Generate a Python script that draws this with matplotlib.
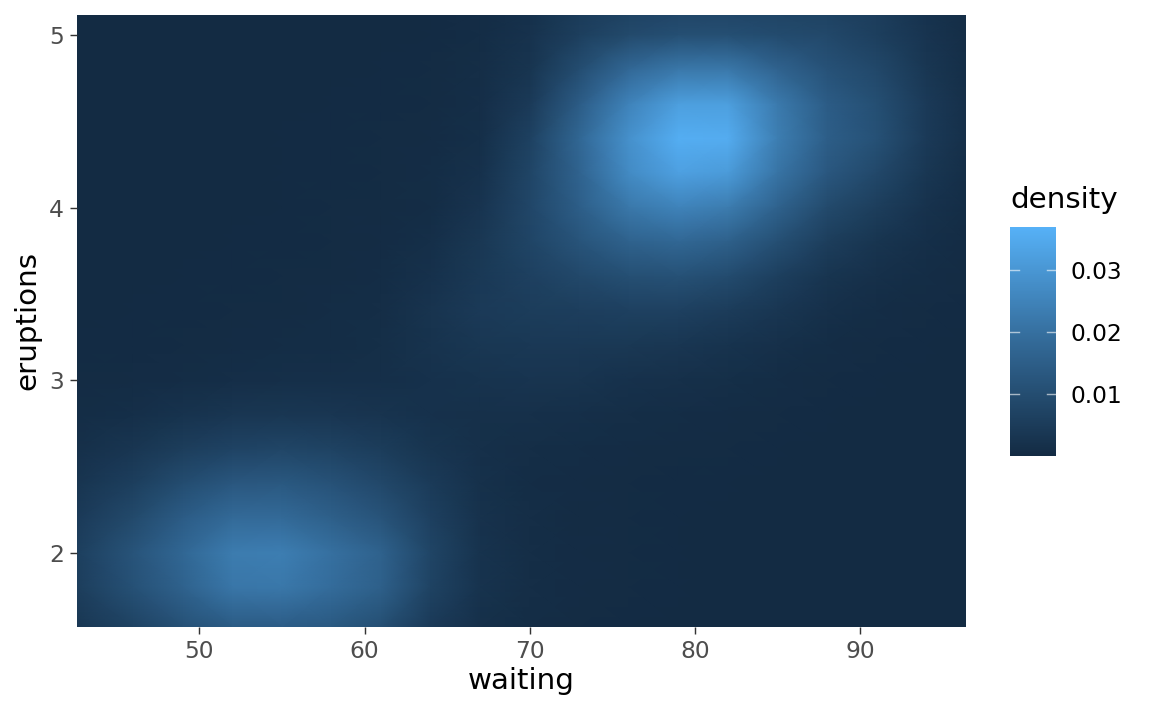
import numpy as np
import matplotlib
matplotlib.use('Agg')
import matplotlib.pyplot as plt
from matplotlib.colors import LinearSegmentedColormap, Normalize
from matplotlib.transforms import blended_transform_factory

W, H = 1152, 711

waiting = [42.6, 46, 49, 52, 55, 58, 61, 64, 67, 70, 73, 76, 79, 82, 85, 88, 91, 94, 96.4]
eruptions = [5.12, 5.0, 4.8, 4.6, 4.4, 4.2, 4.0, 3.8, 3.6, 3.4, 3.2, 3.0, 2.8, 2.6, 2.4, 2.2, 2.0, 1.8, 1.57]

# density, in units of 0.001, top row first
density = [
    [.1, .1, .1, .1, .1, .1, .1, .2, .6, 2, 5, 7, 8, 8, 7.5, 7, 5.5, 2.5, 1],
    [.1, .1, .1, .1, .1, .1, .1, .2, .7, 2.2, 6, 9, 10.5, 10.5, 9.5, 8.5, 6, 2.8, 1],
    [.1, .1, .1, .1, .1, .1, .2, .3, .9, 3, 10, 18, 22, 22, 16.5, 11.5, 8.5, 3.5, 1.2],
    [.1, .1, .1, .1, .1, .2, .2, .4, 1.1, 4.5, 14.5, 25, 32, 32, 22.5, 14.5, 10.5, 4.5, 1.5],
    [.1, .1, .1, .1, .2, .2, .3, .5, 1.3, 6.5, 17.5, 28.5, 36, 35.5, 23.5, 15, 11, 4.5, 1.5],
    [.1, .1, .1, .1, .2, .2, .3, .6, 2, 7.5, 16.5, 27, 32.5, 31, 21, 13, 8.5, 3.5, 1.2],
    [.1, .1, .1, .1, .2, .3, .4, .8, 2.8, 8, 15, 22, 25, 23, 16, 9, 5.5, 2.2, .8],
    [.1, .1, .1, .2, .2, .3, .5, 1.3, 3.8, 7.5, 12, 16, 17.5, 15.5, 10.5, 5.5, 3, 1.4, .5],
    [.1, .1, .2, .2, .3, .4, .7, 1.9, 4.2, 6.2, 8.5, 10.5, 11, 9.5, 6, 3, 1.5, .7, .3],
    [.1, .2, .2, .3, .4, .6, 1, 2.6, 4.6, 5.2, 5.7, 6.2, 6.2, 5, 3.2, 1.5, .7, .3, .2],
    [.2, .2, .3, .5, .7, .8, 1.2, 2.4, 3.6, 4, 4, 3.8, 3.2, 2.5, 1.5, .7, .3, .2, .1],
    [.3, .5, .8, 1.1, 1.4, 1.4, 1.4, 1.9, 2.5, 2.8, 2.6, 2, 1.6, 1.2, .7, .3, .2, .1, .1],
    [.7, 1.4, 2.4, 3.2, 3.5, 3.2, 2.6, 1.9, 1.6, 1.5, 1.3, 1, .8, .5, .3, .2, .1, .1, .1],
    [1.5, 3.2, 5.5, 7.2, 7.8, 7, 5.2, 3, 1.5, 1, .7, .5, .4, .3, .2, .1, .1, .1, .1],
    [3, 6, 10, 13, 13.5, 11.5, 8.5, 4.8, 1.8, .8, .5, .3, .2, .2, .1, .1, .1, .1, .1],
    [4.5, 9, 14.5, 18.5, 18.5, 15.5, 12, 6.2, 2.2, .9, .4, .3, .2, .1, .1, .1, .1, .1, .1],
    [6, 12, 17.5, 23, 23.5, 20, 16, 7.5, 2.5, 1, .5, .3, .2, .1, .1, .1, .1, .1, .1],
    [5.5, 11, 16, 21.5, 22, 19, 15.5, 7, 2.4, 1, .5, .3, .2, .1, .1, .1, .1, .1, .1],
    [3.5, 7, 11, 14, 14.5, 13.5, 10.5, 4.5, 1.6, .7, .4, .2, .1, .1, .1, .1, .1, .1, .1],
]

x_ticks = [50, 60, 70, 80, 90]
y_ticks = [2, 3, 4, 5]
legend_ticks = [0.01, 0.02, 0.03]
legend_labels = ['0.01', '0.02', '0.03']


def px_axes(fig, left, top, right, bottom):
    return fig.add_axes([left / W, 1 - bottom / H, (right - left) / W, (bottom - top) / H])


fig = plt.figure(figsize=(W / 144, H / 144), dpi=144)
cmap = LinearSegmentedColormap.from_list('ggblue', ['#132B43', '#336A98', '#56B1F7'])
norm = Normalize(0, 0.0369)

ax = px_axes(fig, 77, 15, 966, 627)
z = np.array(density) / 1000
mesh = ax.pcolormesh(waiting, eruptions, z, shading='gouraud', cmap=cmap, norm=norm, rasterized=True)
ax.set_xlim(42.6, 96.4)
ax.set_ylim(1.57, 5.116)
ax.set_xticks(x_ticks)
ax.set_yticks(y_ticks)
ax.tick_params(length=3.65, width=0.71, color='#333333', labelcolor='#4D4D4D', labelsize=11.7, pad=2.9)
for s in ax.spines.values():
    s.set_visible(False)

fig.text(521 / W, 1 - 681 / H, 'waiting', fontsize=14.67, ha='center', va='center')
fig.text(27 / W, 1 - 321 / H, 'eruptions', fontsize=14.67, rotation=90, ha='center', va='center')

# legend
cax = px_axes(fig, 1010, 227, 1056, 456)
cbar = fig.colorbar(mesh, cax=cax)
cbar.outline.set_visible(False)
cbar.set_ticks(legend_ticks, labels=legend_labels)
cax.tick_params(length=0, labelsize=11.7, pad=7.5, labelcolor='black')
trans = blended_transform_factory(cax.transAxes, cax.transData)
for t in legend_ticks:
    cax.plot([0, 0.2], [t, t], color='white', alpha=0.6, lw=0.71, transform=trans)
    cax.plot([0.8, 1], [t, t], color='white', alpha=0.6, lw=0.71, transform=trans)
fig.text(1010 / W, 1 - 200 / H, 'density', fontsize=14.67, ha='left', va='center')

fig.savefig('out.png', dpi=144)
